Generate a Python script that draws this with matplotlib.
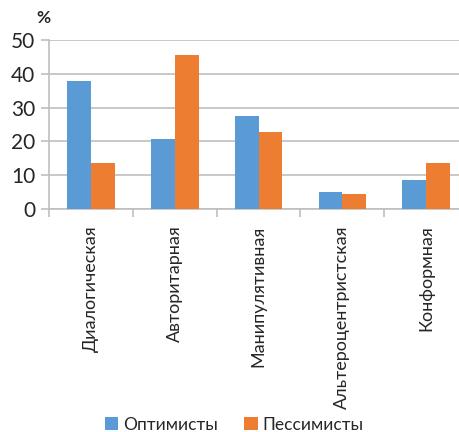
import matplotlib
matplotlib.use("Agg")
import matplotlib.pyplot as plt
from matplotlib.patches import Patch
import numpy as np

categories = ["Диалогическая", "Авторитарная", "Манипулятивная",
              "Альтероцентристская", "Конформная"]
optimists = [38.0, 20.7, 27.5, 4.9, 8.6]
pessimists = [13.5, 45.5, 22.7, 4.4, 13.6]
series_names = ["Оптимисты", "Пессимисты"]
y_ticks = [0, 10, 20, 30, 40, 50]

BLUE = "#5B9BD5"
ORANGE = "#ED7D31"
GRID = "#BFBFBF"
TEXT = "#262626"

plt.rcParams["font.family"] = ["Lato", "DejaVu Sans"]

fig = plt.figure(figsize=(4.6, 4.32), dpi=100)
ax = fig.add_axes([0.1072, 0.5162, 0.9098, 0.3912])

x = np.arange(len(categories))
w = 0.283
ax.bar(x - w / 2, optimists, width=w, color=BLUE, zorder=3)
ax.bar(x + w / 2, pessimists, width=w, color=ORANGE, zorder=3)

ax.set_xlim(-0.5, len(categories) - 0.5)
ax.set_ylim(0, 50)
ax.set_yticks(y_ticks)
ax.yaxis.grid(True, color=GRID, linewidth=1.2, zorder=0)
ax.set_axisbelow(True)

for side in ("top", "right"):
    ax.spines[side].set_visible(False)
for side in ("left", "bottom"):
    ax.spines[side].set_color(GRID)
    ax.spines[side].set_linewidth(1.2)

ax.tick_params(axis="y", length=6, width=1.2, color=GRID, labelsize=15,
               labelcolor=TEXT, pad=4)
ax.set_xticks(np.arange(-0.5, len(categories), 1.0), minor=False)
ax.set_xticklabels([])
ax.tick_params(axis="x", which="major", length=6, width=1.2, color=GRID)
ax.set_xticks(x, minor=True)
ax.set_xticklabels(categories, minor=True, rotation=90, fontsize=13,
                   color=TEXT, va="top", ha="center")
ax.tick_params(axis="x", which="minor", length=0, pad=12)

fig.text(0.08, 0.958, "%", fontsize=12.5, fontweight="bold", color=TEXT,
         ha="left", va="center")

handles = [Patch(facecolor=BLUE, label=series_names[0]),
           Patch(facecolor=ORANGE, label=series_names[1])]
fig.legend(handles=handles, loc="center", bbox_to_anchor=(0.51, 0.017),
           ncol=2, frameon=False, fontsize=12.5, handlelength=0.75,
           handleheight=0.75, handletextpad=0.3, columnspacing=1.5,
           labelcolor=TEXT)

fig.savefig("out.png", dpi=100)
